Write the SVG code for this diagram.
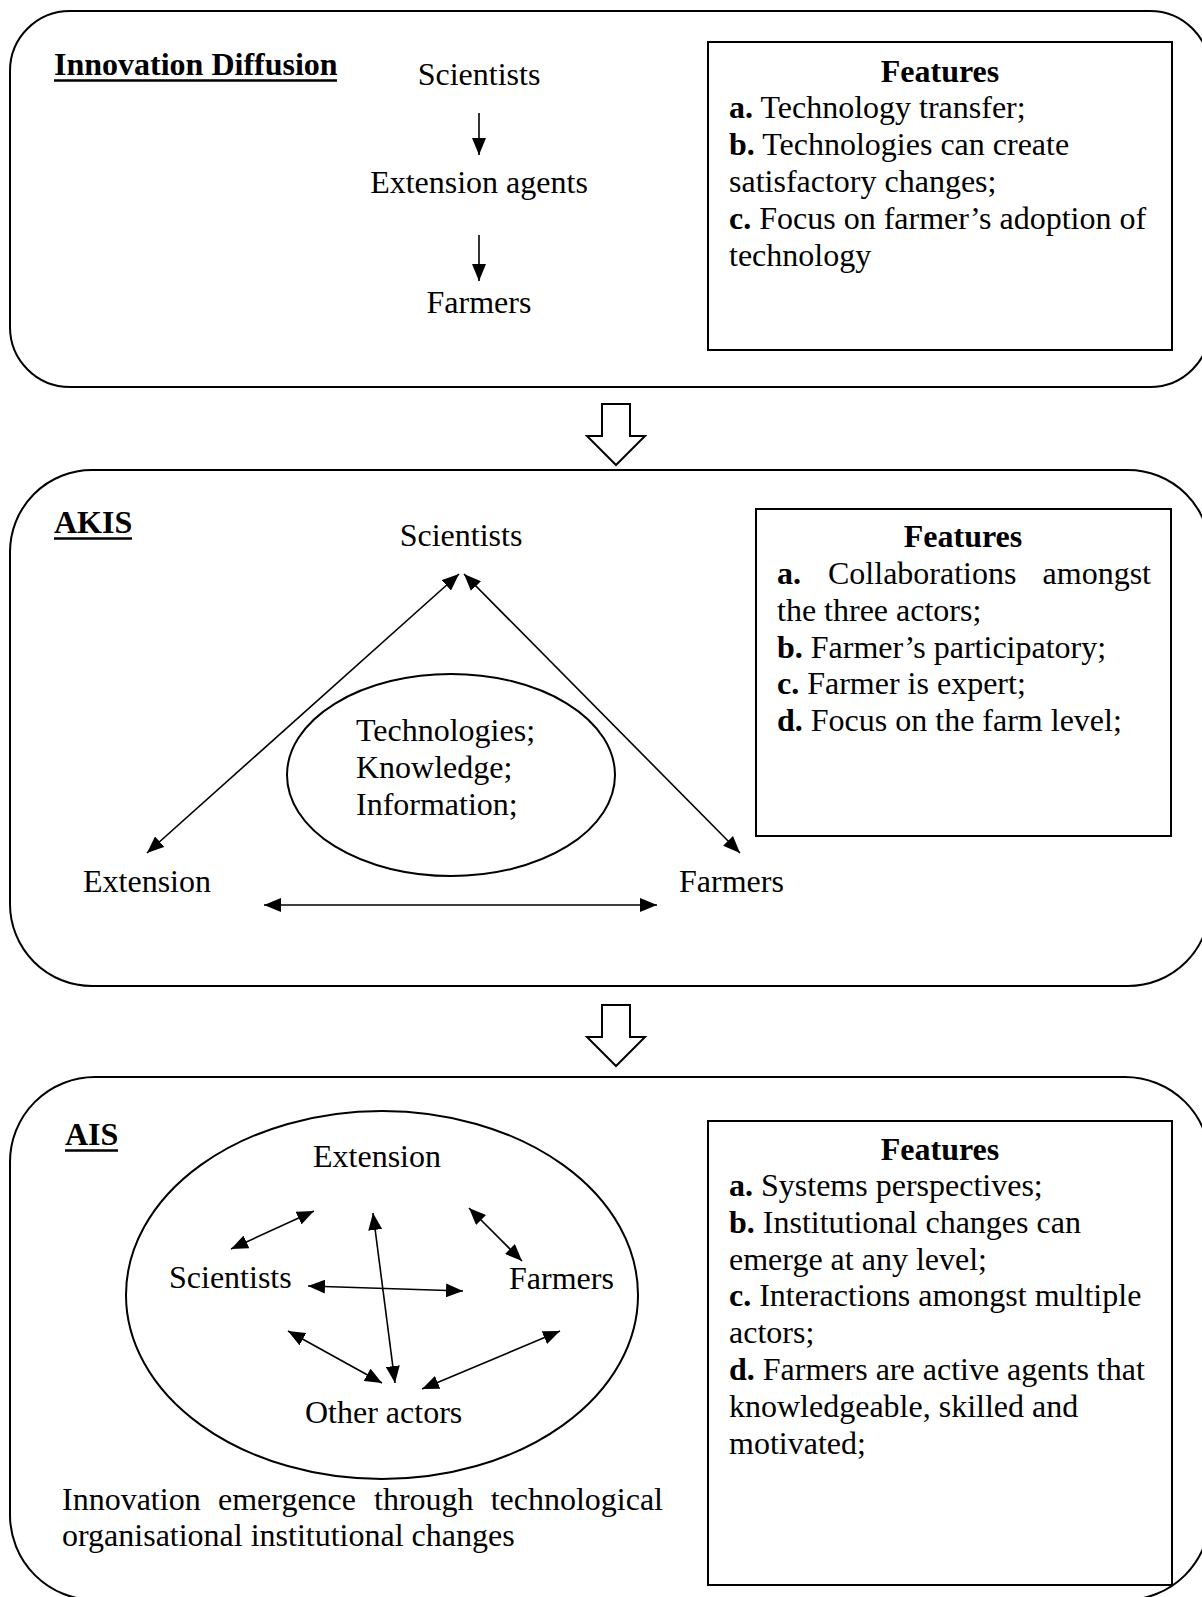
<svg xmlns="http://www.w3.org/2000/svg" width="1202" height="1597" viewBox="0 0 1202 1597">
  <style>
    .panel { fill: none; stroke: #000; stroke-width: 2; }
    .feat { fill: #fff; stroke: #000; stroke-width: 2; }
    .oval { fill: none; stroke: #000; stroke-width: 2; }
    .t { font-family: "Liberation Serif", "Times New Roman", serif; font-size: 32px; fill: #000; }
    .b { font-weight: bold; }
    .c { text-anchor: middle; }
    .ul { stroke: #000; stroke-width: 2.5; }
    .link { stroke: #000; stroke-width: 1.6; fill: none; }
    .two { marker-start: url(#ah); marker-end: url(#ah); }
    .one { marker-end: url(#ah); }
    .step { fill: #fff; stroke: #000; stroke-width: 2; stroke-linejoin: miter; }
  </style>
  <defs>
    <marker id="ah" viewBox="0 0 17 14" refX="17" refY="7" markerWidth="17" markerHeight="14" markerUnits="userSpaceOnUse" orient="auto-start-reverse">
      <path d="M0,0 L17,7 L0,14 z" fill="#000"/>
    </marker>
  </defs>

  <rect width="1202" height="1597" fill="#fff"/>

  <!-- Panel outlines -->
  <g id="panels">
    <rect id="panel-diffusion" class="panel" x="10" y="11" width="1200" height="376" rx="60" ry="60"/>
    <rect id="panel-akis" class="panel" x="10" y="470" width="1200" height="516" rx="82" ry="82"/>
    <rect id="panel-ais" class="panel" x="10" y="1077" width="1200" height="523" rx="85" ry="85"/>
  </g>

  <!-- Hollow transition arrows between panels -->
  <g id="transitions">
    <polygon id="step-1" class="step" points="602,404 630,404 630,436 645,436 616,465 587,436 602,436"/>
    <polygon id="step-2" class="step" points="602,1005 630,1005 630,1037 645,1037 616,1066 587,1037 602,1037"/>
  </g>

  <!-- Connectors -->
  <g id="connectors">
    <line class="link one" x1="479" y1="113" x2="479" y2="155"/>
    <line class="link one" x1="479" y1="235" x2="479" y2="281"/>

    <line class="link two" x1="459" y1="574" x2="147" y2="853"/>
    <line class="link two" x1="464" y1="574" x2="740" y2="853"/>
    <line class="link two" x1="264" y1="905" x2="657" y2="905"/>

    <line class="link two" x1="231" y1="1249" x2="314" y2="1211"/>
    <line class="link two" x1="373" y1="1213" x2="395" y2="1383"/>
    <line class="link two" x1="469" y1="1208" x2="522" y2="1261"/>
    <line class="link two" x1="308" y1="1286" x2="463" y2="1291"/>
    <line class="link two" x1="288" y1="1331" x2="382" y2="1383"/>
    <line class="link two" x1="560" y1="1331" x2="422" y2="1389"/>
  </g>

  <!-- Innovation Diffusion -->
  <g id="title-diffusion">
    <text class="t b" x="54" y="75">Innovation Diffusion</text>
    <line class="ul" x1="54" y1="80.5" x2="337" y2="80.5"/>
  </g>
  <g id="node-d-scientists"><text class="t c" x="479" y="85">Scientists</text></g>
  <g id="node-d-extension"><text class="t c" x="479" y="193">Extension agents</text></g>
  <g id="node-d-farmers"><text class="t c" x="479" y="313">Farmers</text></g>
  <g id="features-diffusion">
    <rect class="feat" x="708" y="42" width="464" height="308"/>
    <text class="t b c" x="940" y="82">Features</text>
    <text class="t" x="729" y="118"><tspan class="b">a.</tspan> Technology transfer;</text>
    <text class="t" x="729" y="155"><tspan class="b">b.</tspan> Technologies can create</text>
    <text class="t" x="729" y="192">satisfactory changes;</text>
    <text class="t" x="729" y="229"><tspan class="b">c.</tspan> Focus on farmer’s adoption of</text>
    <text class="t" x="729" y="266">technology</text>
  </g>

  <!-- AKIS -->
  <g id="title-akis">
    <text class="t b" x="54" y="533">AKIS</text>
    <line class="ul" x1="54" y1="538.5" x2="132" y2="538.5"/>
  </g>
  <g id="node-k-scientists"><text class="t c" x="461" y="546">Scientists</text></g>
  <g id="node-k-extension"><text class="t" x="83" y="892">Extension</text></g>
  <g id="node-k-farmers"><text class="t" x="679" y="892">Farmers</text></g>
  <g id="node-k-core">
    <ellipse class="oval" cx="451" cy="775" rx="164" ry="101"/>
    <text class="t" x="356" y="741">Technologies;</text>
    <text class="t" x="356" y="778">Knowledge;</text>
    <text class="t" x="356" y="815">Information;</text>
  </g>
  <g id="features-akis">
    <rect class="feat" x="756" y="509" width="415" height="327"/>
    <text class="t b c" x="963" y="547">Features</text>
    <text class="t" y="584"><tspan class="b" x="777">a.</tspan><tspan x="828">Collaborations</tspan></text>
    <text class="t" x="1151" y="584" text-anchor="end">amongst</text>
    <text class="t" x="777" y="621">the three actors;</text>
    <text class="t" x="777" y="658"><tspan class="b">b.</tspan> Farmer’s participatory;</text>
    <text class="t" x="777" y="694"><tspan class="b">c.</tspan> Farmer is expert;</text>
    <text class="t" x="777" y="731"><tspan class="b">d.</tspan> Focus on the farm level;</text>
  </g>

  <!-- AIS -->
  <g id="title-ais">
    <text class="t b" x="65" y="1145">AIS</text>
    <line class="ul" x1="65" y1="1150.5" x2="118" y2="1150.5"/>
  </g>
  <g id="node-s-system">
    <ellipse class="oval" cx="382" cy="1295" rx="256" ry="184"/>
  </g>
  <g id="node-s-extension"><text class="t c" x="377" y="1167">Extension</text></g>
  <g id="node-s-scientists"><text class="t" x="169" y="1288">Scientists</text></g>
  <g id="node-s-farmers"><text class="t" x="509" y="1289">Farmers</text></g>
  <g id="node-s-others"><text class="t" x="305" y="1423">Other actors</text></g>
  <g id="note-ais">
    <text class="t" y="1510"><tspan x="62">Innovation</tspan><tspan x="218">emergence</tspan><tspan x="374">through</tspan></text>
    <text class="t" x="663" y="1510" text-anchor="end">technological</text>
    <text class="t" x="62" y="1546">organisational institutional changes</text>
  </g>
  <g id="features-ais">
    <rect class="feat" x="708" y="1121" width="464" height="464"/>
    <text class="t b c" x="940" y="1160">Features</text>
    <text class="t" x="729" y="1196"><tspan class="b">a.</tspan> Systems perspectives;</text>
    <text class="t" x="729" y="1233"><tspan class="b">b.</tspan> Institutional changes can</text>
    <text class="t" x="729" y="1270">emerge at any level;</text>
    <text class="t" x="729" y="1306"><tspan class="b">c.</tspan> Interactions amongst multiple</text>
    <text class="t" x="729" y="1343">actors;</text>
    <text class="t" x="729" y="1380"><tspan class="b">d.</tspan> Farmers are active agents that</text>
    <text class="t" x="729" y="1417">knowledgeable, skilled and</text>
    <text class="t" x="729" y="1454">motivated;</text>
  </g>
</svg>
